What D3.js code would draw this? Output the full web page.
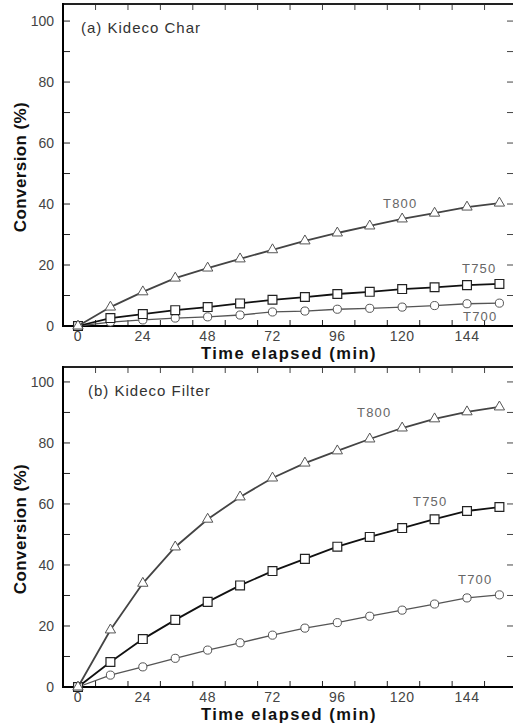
<!DOCTYPE html>
<html lang="en">
<head>
  <meta charset="UTF-8">
  <title>Kideco conversion</title>
  <script src="https://d3js.org/d3.v7.min.js"></script>
  <style>
    body {
      background-color: white;
      margin: 0;
      padding: 0;
      overflow: hidden;
    }
    text {
      font-family: "Liberation Sans", Arial, sans-serif;
    }
  </style>
</head>
<body>
  <script>
    // time axis (min)
    const times = [0, 12, 24, 36, 48, 60, 72, 84, 96, 108, 120, 132, 144, 156];
    const xTickLabels = [0, 24, 48, 72, 96, 120, 144];
    const xTickMarks = [6.5, 18.5, 30.5, 42.5, 54.5, 66.5, 78.5, 90.5, 102.5, 114.5, 126.5, 138.5, 150.5];
    const yTickLabels = [0, 20, 40, 60, 80, 100];
    const yTickMarks = [0, 10, 20, 30, 40, 50, 60, 70, 80, 90, 100];

    // (a) Kideco Char
    const charT700 = [0, 1.3, 2.0, 2.6, 3.0, 3.6, 4.6, 4.9, 5.5, 5.8, 6.2, 6.7, 7.3, 7.5];
    const charT750 = [0, 2.6, 3.9, 5.2, 6.2, 7.4, 8.6, 9.5, 10.5, 11.2, 12.1, 12.7, 13.4, 13.8];
    const charT800 = [0, 6.2, 11.2, 15.7, 19.0, 22.0, 25.0, 27.9, 30.5, 32.8, 35.1, 37.0, 39.0, 40.3];

    // (b) Kideco Filter
    const filterT700 = [0, 3.9, 6.6, 9.4, 12.1, 14.5, 17.0, 19.3, 21.1, 23.2, 25.2, 27.2, 29.2, 30.2];
    const filterT750 = [0, 8.2, 15.7, 22.0, 27.9, 33.3, 38.0, 42.0, 46.0, 49.2, 52.1, 55.0, 57.7, 59.0];
    const filterT800 = [0, 18.7, 34.0, 45.9, 55.0, 62.3, 68.5, 73.4, 77.4, 81.3, 84.9, 87.9, 90.2, 91.8];

    const width = 513;
    const height = 723;

    const svg = d3.select("body").append("svg")
      .attr("width", width)
      .attr("height", height);

    const x = d3.scaleLinear().domain([-5.55, 161.4]).range([63, 514]);

    const seriesStyle = {
      T700: { symbol: d3.symbolCircle, size: 52, line: "#555", lw: 1.3, mark: "#555", mw: 1 },
      T750: { symbol: d3.symbolSquare, size: 78, line: "#111", lw: 1.8, mark: "#222", mw: 1.2 },
      T800: { symbol: d3.symbolTriangle, size: 46, line: "#444", lw: 1.8, mark: "#555", mw: 1 }
    };

    function drawPanel(opts) {
      const y = d3.scaleLinear().domain([0, opts.yMax]).range([opts.bottom, opts.top]);
      const g = svg.append("g");

      // tick marks, all pointing inward
      g.append("g").selectAll("line.xb")
        .data(xTickMarks).enter().append("line")
        .attr("x1", d => x(d)).attr("x2", d => x(d))
        .attr("y1", opts.bottom).attr("y2", opts.bottom - 6)
        .attr("stroke", "#222").attr("stroke-width", 1);
      g.append("g").selectAll("line.xt")
        .data(xTickMarks).enter().append("line")
        .attr("x1", d => x(d)).attr("x2", d => x(d))
        .attr("y1", opts.top).attr("y2", opts.top + 6)
        .attr("stroke", "#444").attr("stroke-width", 1);
      g.append("g").selectAll("line.yl")
        .data(yTickMarks).enter().append("line")
        .attr("x1", 63).attr("x2", 70)
        .attr("y1", d => y(d)).attr("y2", d => y(d))
        .attr("stroke", "#222").attr("stroke-width", 1);
      g.append("g").selectAll("line.yr")
        .data(yTickMarks).enter().append("line")
        .attr("x1", 507).attr("x2", 514)
        .attr("y1", d => y(d)).attr("y2", d => y(d))
        .attr("stroke", "#444").attr("stroke-width", 1);

      // frame
      g.append("line").attr("x1", 63).attr("x2", 514)
        .attr("y1", opts.top).attr("y2", opts.top)
        .attr("stroke", "#222").attr("stroke-width", 2);
      g.append("line").attr("x1", 63).attr("x2", 514)
        .attr("y1", opts.bottom).attr("y2", opts.bottom)
        .attr("stroke", "#000").attr("stroke-width", 2);
      g.append("line").attr("x1", 63).attr("x2", 63)
        .attr("y1", opts.top - 1).attr("y2", opts.bottom + 1)
        .attr("stroke", "#000").attr("stroke-width", 2);

      // tick labels
      g.append("g").selectAll("text")
        .data(yTickLabels).enter().append("text")
        .attr("x", 54).attr("y", d => y(d) + 5)
        .attr("text-anchor", "end")
        .attr("font-size", 14).attr("fill", "#444")
        .text(d => d);
      g.append("g").selectAll("text")
        .data(xTickLabels).enter().append("text")
        .attr("x", d => x(d)).attr("y", opts.bottom + 15)
        .attr("text-anchor", "middle")
        .attr("font-size", 14).attr("fill", "#444")
        .attr("letter-spacing", 0.5)
        .text(d => d);

      // axis titles
      g.append("text")
        .attr("x", 289).attr("y", opts.bottom + 33)
        .attr("text-anchor", "middle")
        .attr("font-size", 16.5).attr("font-weight", "bold").attr("fill", "#111")
        .attr("letter-spacing", 1.5)
        .text("Time elapsed (min)");
      g.append("text")
        .attr("transform", `translate(26,${(opts.top + opts.bottom) / 2 + 2}) rotate(-90)`)
        .attr("text-anchor", "middle")
        .attr("font-size", 17).attr("font-weight", "bold").attr("fill", "#111")
        .attr("letter-spacing", 0.4)
        .text("Conversion (%)");

      // panel label
      g.append("text")
        .attr("x", opts.labelX).attr("y", opts.top + 29)
        .attr("font-size", 15).attr("fill", "#333")
        .attr("letter-spacing", 1)
        .text(opts.title);

      // series
      const line = d3.line().x((d, i) => x(times[i])).y(d => y(d));
      opts.series.forEach(s => {
        const st = seriesStyle[s.name];
        g.append("path")
          .datum(s.values)
          .attr("fill", "none")
          .attr("stroke", st.line)
          .attr("stroke-width", st.lw)
          .attr("d", line);
        g.append("g").selectAll("path")
          .data(s.values).enter().append("path")
          .attr("transform", (d, i) => `translate(${x(times[i])},${y(d)})`)
          .attr("d", d3.symbol().type(st.symbol).size(st.size))
          .attr("fill", "white")
          .attr("stroke", st.mark)
          .attr("stroke-width", st.mw);
        g.append("text")
          .attr("x", s.lx).attr("y", s.ly)
          .attr("font-size", 13).attr("fill", "#666")
          .attr("letter-spacing", 1.2)
          .text(s.name);
      });
    }

    drawPanel({
      top: 4, bottom: 326, yMax: 105.6,
      title: "(a) Kideco Char", labelX: 81,
      series: [
        { name: "T700", values: charT700, lx: 463, ly: 321 },
        { name: "T750", values: charT750, lx: 462, ly: 273 },
        { name: "T800", values: charT800, lx: 383, ly: 208 }
      ]
    });

    drawPanel({
      top: 367, bottom: 687, yMax: 104.9,
      title: "(b) Kideco Filter", labelX: 88,
      series: [
        { name: "T700", values: filterT700, lx: 458, ly: 584 },
        { name: "T750", values: filterT750, lx: 413, ly: 506 },
        { name: "T800", values: filterT800, lx: 357, ly: 417 }
      ]
    });
  </script>
</body>
</html>
